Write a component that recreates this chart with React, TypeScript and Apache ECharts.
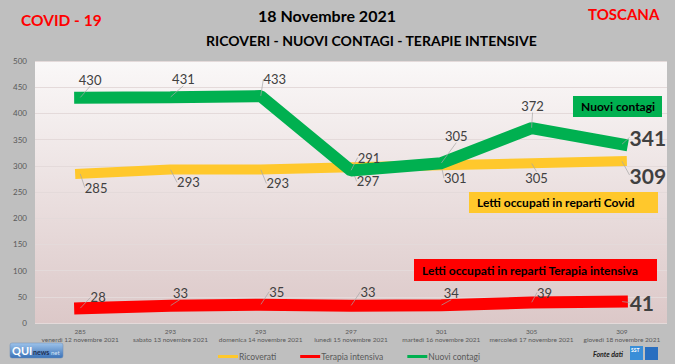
import React, { useEffect, useRef } from "react";
import * as echarts from "echarts";

const dates = [
  "venerdì 12 novembre 2021",
  "sabato 13 novembre 2021",
  "domenica 14 novembre 2021",
  "lunedì 15 novembre 2021",
  "martedì 16 novembre 2021",
  "mercoledì 17 novembre 2021",
  "giovedì 18 novembre 2021",
];
const ricoverati = [285, 293, 293, 297, 301, 305, 309];
const terapiaIntensiva = [28, 33, 35, 33, 34, 39, 41];
const nuoviContagi = [430, 431, 433, 291, 305, 372, 341];

const greenOffsets = [[10, -18], [13, -18], [14, -17], [18, -13], [15, -27], [1, -22], [26, -7]];
const yellowOffsets = [[16, 14], [18, 13], [17, 14], [17, 14], [14, 13], [5, 15], [26, 14]];
const redOffsets = [[18, -11], [10, -13], [16, -13], [17, -14], [10, -12], [13, -10], [20, 1]];

const FONT = "Lato";
const LABEL_COLOR = "#404040";

function buildData(values: number[], offsets: number[][]) {
  return values.map((v, i) => {
    const last = i === values.length - 1;
    return {
      value: v,
      label: {
        show: true,
        position: "inside",
        offset: offsets[i],
        align: "center",
        verticalAlign: "middle",
        color: LABEL_COLOR,
        fontFamily: FONT,
        fontSize: last ? 21 : 13,
        fontWeight: last ? "bold" : "normal",
      },
    };
  });
}

function annotation(x: number, y: number, w: number, h: number, fill: string, text: string) {
  return {
    type: "group",
    x,
    y,
    z: 100,
    children: [
      { type: "rect", z: 100, shape: { x: 0, y: 0, width: w, height: h }, style: { fill } },
      {
        type: "text",
        z: 101,
        x: 8,
        y: h / 2,
        style: {
          text,
          fill: "#000",
          font: `bold 12px ${FONT}`,
          verticalAlign: "middle",
        },
      },
    ],
  };
}

export default function App() {
  const ref = useRef<HTMLDivElement>(null);
  useEffect(() => {
    if (!ref.current) return;
    const chart = echarts.init(ref.current, undefined, { renderer: "svg" });
    const lineCommon = {
      type: "line",
      symbol: "circle",
      symbolSize: 0.5,
      showSymbol: true,
      labelLine: { show: true, lineStyle: { color: "#a6a6a6", width: 0.7 } },
    };
    chart.setOption({
      animation: false,
      backgroundColor: "#bfbfbf",
      textStyle: { fontFamily: FONT },
      grid: {
        left: 35,
        right: 8,
        top: 61,
        bottom: 41,
        show: true,
        borderWidth: 0,
        backgroundColor: new echarts.graphic.LinearGradient(0, 0, 0, 1, [
          { offset: 0, color: "#faf8f8" },
          { offset: 1, color: "#dcc8c8" },
        ]),
      },
      xAxis: {
        type: "category",
        data: dates,
        boundaryGap: true,
        axisLine: { show: false },
        axisTick: { show: false },
        axisLabel: {
          color: "#595959",
          fontSize: 6.5,
          lineHeight: 8,
          margin: 4,
          interval: 0,
          formatter: (val: string, idx: number) => `${ricoverati[idx]}\n${val}`,
        },
      },
      yAxis: {
        type: "value",
        min: 0,
        max: 500,
        interval: 50,
        axisLine: { show: false },
        axisTick: { show: false },
        axisLabel: { color: "#595959", fontSize: 8, margin: 8 },
        splitLine: { lineStyle: { color: "#e4dada", width: 1 } },
      },
      legend: {
        left: 213,
        top: 347,
        itemGap: 24,
        itemWidth: 20,
        itemHeight: 3,
        icon: "rect",
        textStyle: { color: "#595959", fontSize: 8.5, fontFamily: FONT, padding: [0, 0, 0, -4] },
        data: ["Ricoverati", "Terapia intensiva", "Nuovi contagi"],
      },
      series: [
        {
          ...lineCommon,
          name: "Ricoverati",
          data: buildData(ricoverati, yellowOffsets),
          color: "#ffc82c",
          lineStyle: { color: "#ffc82c", width: 10, cap: "square" },
          z: 2,
        },
        {
          ...lineCommon,
          name: "Terapia intensiva",
          data: buildData(terapiaIntensiva, redOffsets),
          color: "#ff0000",
          lineStyle: { color: "#ff0000", width: 12, cap: "square" },
          z: 3,
        },
        {
          ...lineCommon,
          name: "Nuovi contagi",
          data: buildData(nuoviContagi, greenOffsets),
          color: "#00b050",
          lineStyle: { color: "#00b050", width: 12, cap: "square" },
          z: 4,
        },
      ],
      graphic: [
        {
          type: "text",
          left: 21,
          top: 12,
          style: { text: "COVID - 19", fill: "#ff0000", font: `bold 15.5px ${FONT}` },
        },
        {
          type: "text",
          left: 258,
          top: 7,
          style: { text: "18 Novembre 2021", fill: "#000", font: `bold 16px ${FONT}` },
        },
        {
          type: "text",
          left: 206,
          top: 33,
          style: {
            text: "RICOVERI - NUOVI CONTAGI - TERAPIE INTENSIVE",
            fill: "#000",
            font: `bold 14px ${FONT}`,
          },
        },
        {
          type: "text",
          left: 588,
          top: 6,
          style: { text: "TOSCANA", fill: "#ff0000", font: `bold 15px ${FONT}` },
        },
        annotation(573, 96, 89, 21, "#00b050", "Nuovi contagi"),
        annotation(469, 192, 189, 21, "#ffc82c", "Letti occupati in reparti Covid"),
        annotation(414, 259, 243, 22, "#ff0000", "Letti occupati in reparti Terapia intensiva"),
        {
          type: "group",
          x: 10,
          y: 343,
          children: [
            {
              type: "rect",
              shape: { x: 0, y: 0, width: 53, height: 15, r: 2 },
              style: {
                fill: new echarts.graphic.LinearGradient(0, 0, 0, 1, [
                  { offset: 0, color: "#9ec3ea" },
                  { offset: 1, color: "#3a72b8" },
                ]),
                stroke: "#6f8fb5",
                lineWidth: 0.5,
              },
            },
            { type: "text", x: 2, y: 2, style: { text: "QUI", fill: "#fff", font: `bold 11px ${FONT}` } },
            { type: "text", x: 23, y: 5, style: { text: "news", fill: "#1e2f55", font: `bold 7px ${FONT}` } },
            { type: "text", x: 41, y: 6, style: { text: "net", fill: "#d8e6f6", font: `6px ${FONT}` } },
          ],
        },
        {
          type: "text",
          left: 593,
          top: 350,
          style: { text: "Fonte dati", fill: "#222", font: `italic bold 7px ${FONT}` },
        },
        {
          type: "rect",
          shape: { x: 630, y: 346, width: 13, height: 14 },
          style: { fill: "#3a8ed8" },
        },
        {
          type: "text",
          left: 631,
          top: 347,
          style: { text: "SST", fill: "#fff", font: `bold 5px ${FONT}` },
        },
        {
          type: "rect",
          shape: { x: 645, y: 347, width: 13, height: 13 },
          style: { fill: "#2a6fc0" },
        },
      ],
    });
    return () => chart.dispose();
  }, []);
  return (
    <div
      ref={ref}
      style={{ position: "fixed", left: 0, top: 0, width: 675, height: 364 }}
    />
  );
}
